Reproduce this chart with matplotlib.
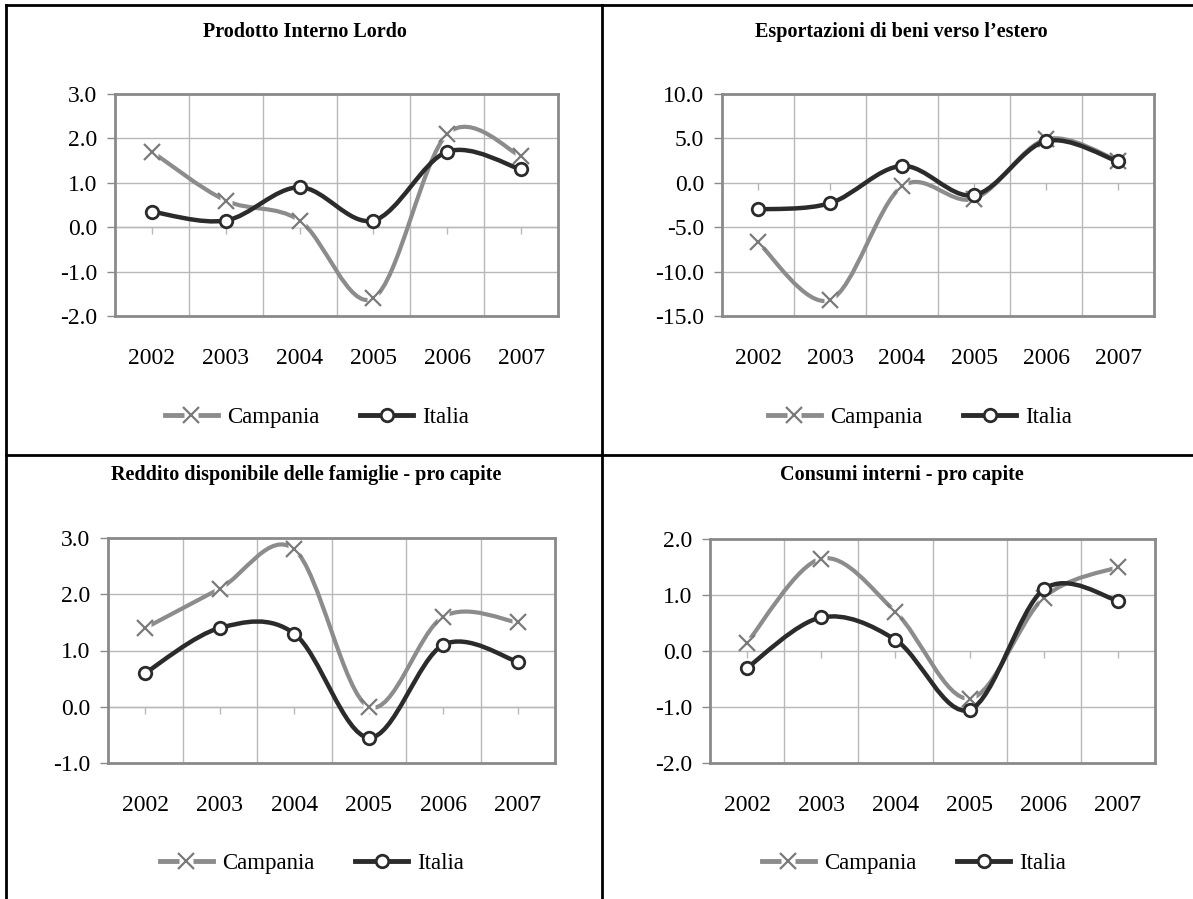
import matplotlib
matplotlib.use('Agg')
import matplotlib.pyplot as plt
import numpy as np
from matplotlib.path import Path
from matplotlib.patches import PathPatch
from matplotlib.lines import Line2D
from matplotlib.legend_handler import HandlerTuple

plt.rcParams['font.family'] = ['Liberation Serif', 'DejaVu Serif']

# dati
anni = ['2002', '2003', '2004', '2005', '2006', '2007']
pil_campania = [1.7, 0.6, 0.15, -1.6, 2.1, 1.6]
pil_italia = [0.35, 0.15, 0.9, 0.15, 1.7, 1.3]
exp_campania = [-6.7, -13.2, -0.4, -1.8, 4.9, 2.5]
exp_italia = [-3.0, -2.3, 1.9, -1.4, 4.7, 2.4]
red_campania = [1.4, 2.1, 2.8, 0.0, 1.6, 1.5]
red_italia = [0.6, 1.4, 1.3, -0.55, 1.1, 0.8]
con_campania = [0.15, 1.65, 0.7, -0.85, 0.95, 1.5]
con_italia = [-0.3, 0.6, 0.2, -1.05, 1.1, 0.9]

titoli = ['Prodotto Interno Lordo', 'Esportazioni di beni verso l\u2019estero',
          'Reddito disponibile delle famiglie - pro capite', 'Consumi interni - pro capite']

W, H = 1193, 899
GRIGIO = '#8c8c8c'
SCURO = '#2b2b2b'
GRID = '#b8b8b8'
BORDO = '#8a8a8a'
FS = 17


def smooth_path(xs, ys):
    # curva di Bezier tipo Excel (Catmull-Rom)
    p = np.column_stack([xs, ys]).astype(float)
    n = len(p)
    verts = [p[0]]
    codes = [Path.MOVETO]
    for i in range(n - 1):
        p0 = p[i - 1] if i > 0 else p[i]
        p3 = p[i + 2] if i + 2 < n else p[i + 1]
        c1 = p[i] + (p[i + 1] - p0) / 6.0
        c2 = p[i + 1] - (p3 - p[i]) / 6.0
        verts += [c1, c2, p[i + 1]]
        codes += [Path.CURVE4] * 3
    return Path(verts, codes)


def pannello(box, titolo, title_xy, campania, italia, ylim, ystep, leg_xy):
    l, r, t, b = box
    ax = fig.add_axes([l / W, 1 - b / H, (r - l) / W, (b - t) / H])
    x = np.arange(len(anni))

    ax.add_patch(PathPatch(smooth_path(x, campania), fill=False, edgecolor=GRIGIO,
                           lw=3, zorder=3, capstyle='butt'))
    ax.plot(x, campania, ls='none', marker='s', ms=9, mfc='white', mec='none', zorder=4)
    ax.plot(x, campania, ls='none', marker='x', ms=11, mew=1.6, mec='#7a7a7a', zorder=5)
    ax.add_patch(PathPatch(smooth_path(x, italia), fill=False, edgecolor=SCURO,
                           lw=3.2, zorder=6, capstyle='butt'))
    ax.plot(x, italia, ls='none', marker='o', ms=9, mfc='white', mec=SCURO, mew=2, zorder=7)

    ax.set_xlim(-0.5, len(anni) - 0.5)
    ax.set_ylim(*ylim)
    ax.set_yticks(np.arange(ylim[0], ylim[1] + 0.01, ystep))
    ax.yaxis.set_major_formatter(matplotlib.ticker.FormatStrFormatter('%.1f'))
    ax.set_xticks(x)
    ax.set_xticklabels(anni)
    ax.set_xticks(x[:-1] + 0.5, minor=True)
    ax.tick_params(axis='x', which='both', length=0, pad=23, labelsize=FS)
    ax.tick_params(axis='y', length=6, width=1, color=BORDO, direction='out',
                   pad=7, labelsize=FS)
    ax.grid(True, axis='y', color=GRID, lw=1, zorder=0)
    ax.grid(True, axis='x', which='minor', color=GRID, lw=1, zorder=0)
    for s in ax.spines.values():
        s.set_color(BORDO)
        s.set_linewidth(2)

    # asse delle categorie sullo zero
    loc = (0 - ylim[0]) / (ylim[1] - ylim[0])
    sec = ax.secondary_xaxis(loc)
    sec.set_xticks(x)
    sec.tick_params(length=5, width=1, color=GRID, direction='out', labelbottom=False,
                    labeltop=False, bottom=True, top=False)
    sec.spines['bottom'].set_color(GRID)
    sec.spines['bottom'].set_linewidth(1)
    for k in ('top', 'left', 'right'):
        sec.spines[k].set_visible(False)

    fig.text(title_xy[0] / W, 1 - title_xy[1] / H, titolo, ha='center', va='center',
             fontsize=14.5, fontweight='bold')

    h_camp = (Line2D([], [], color=GRIGIO, lw=3.5),
              Line2D([], [], ls='none', marker='s', ms=10, mfc='white', mec='none'),
              Line2D([], [], ls='none', marker='x', ms=11, mew=1.6, mec='#7a7a7a'))
    h_ita = Line2D([], [], color=SCURO, lw=3.5, marker='o', ms=9, mfc='white',
                   mec=SCURO, mew=2)
    fig.legend([h_camp, h_ita], ['Campania', 'Italia'], loc='center',
               bbox_to_anchor=(leg_xy[0] / W, 1 - leg_xy[1] / H), ncol=2, frameon=False,
               fontsize=16.5, handlelength=2.3, handletextpad=0.4, columnspacing=1.8,
               handler_map={tuple: HandlerTuple(ndivide=1)})
    return ax


fig = plt.figure(figsize=(W / 100, H / 100), dpi=100)

pannello((115, 558, 94, 316), titoli[0], (305, 32), pil_campania, pil_italia,
         (-2, 3), 1.0, (317, 417))
pannello((722, 1154, 94, 316), titoli[1], (901, 32), exp_campania, exp_italia,
         (-15, 10), 5.0, (920, 417))
pannello((108, 555, 538, 763), titoli[2], (306, 475), red_campania, red_italia,
         (-1, 3), 1.0, (312, 863))
pannello((710, 1155, 539, 763), titoli[3], (902, 475), con_campania, con_italia,
         (-2, 2), 1.0, (914, 863))

# griglia della tabella
for xs, ys in [((6, 6), (5, H)), ((602, 602), (5, H)), ((6, W), (5, 5)), ((6, W), (455, 455))]:
    fig.add_artist(Line2D([v / W for v in xs], [1 - v / H for v in ys], color='black',
                          lw=2))

fig.savefig('out.png', dpi=100)
